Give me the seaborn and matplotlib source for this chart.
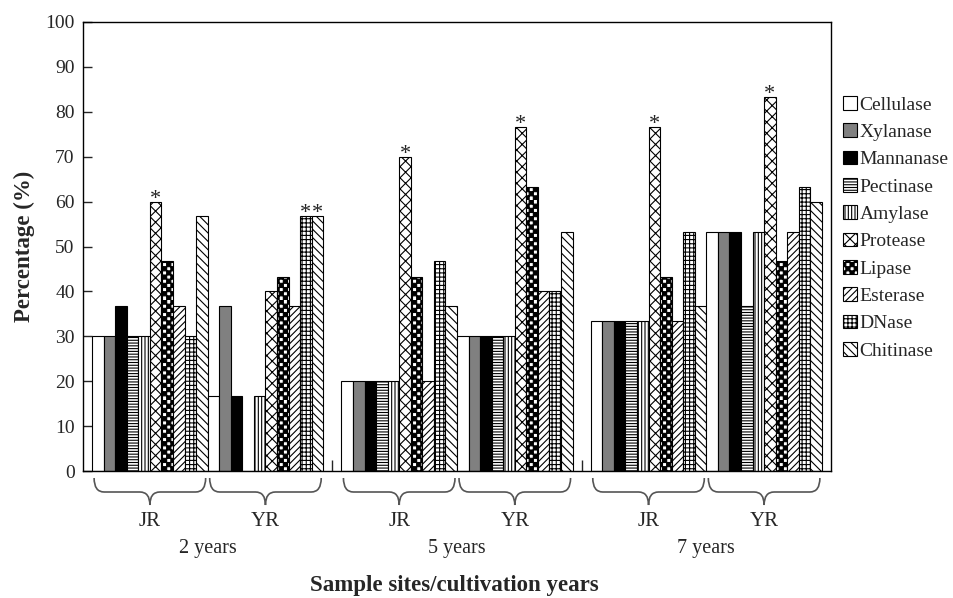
import matplotlib
matplotlib.use('Agg')
import matplotlib.pyplot as plt
import matplotlib.hatch as mhatch
from matplotlib.patches import Patch, PathPatch
from matplotlib.path import Path
from matplotlib.transforms import IdentityTransform
import numpy as np
import pandas as pd
import seaborn as sns

years = ['2 years', '5 years', '7 years']
sites = ['JR', 'YR']
enzymes = ['Cellulase', 'Xylanase', 'Mannanase', 'Pectinase', 'Amylase',
           'Protease', 'Lipase', 'Esterase', 'DNase', 'Chitinase']

# percentage of isolates, enzyme order as above
y2_jr = [30, 30, 36.7, 30, 30, 60, 46.7, 36.7, 30, 56.7]
y2_yr = [16.7, 36.7, 16.7, 0, 16.7, 40, 43.3, 36.7, 56.7, 56.7]
y5_jr = [20, 20, 20, 20, 20, 70, 43.3, 20, 46.7, 36.7]
y5_yr = [30, 30, 30, 30, 30, 76.7, 63.3, 40, 40, 53.3]
y7_jr = [33.3, 33.3, 33.3, 33.3, 33.3, 76.7, 43.3, 33.3, 53.3, 36.7]
y7_yr = [53.3, 53.3, 53.3, 36.7, 53.3, 83.3, 46.7, 53.3, 63.3, 60]

# bars marked with *
starred = [('2 years', 'JR', 'Protease'), ('2 years', 'YR', 'DNase'),
           ('2 years', 'YR', 'Chitinase'), ('5 years', 'JR', 'Protease'),
           ('5 years', 'YR', 'Protease'), ('7 years', 'JR', 'Protease'),
           ('7 years', 'YR', 'Protease')]

faces = ['white', '#808080', 'black', 'white', 'white',
         'white', 'white', 'white', 'white', 'white']
hatches = [None, None, None, '------', '|||||', 'xxx', '****', '/////', '++++', '\\\\\\\\']


# checkerboard hatch (takes the place of the '*' stars)
class CheckerHatch(mhatch.HatchPatternBase):
    def __init__(self, hatch, density):
        self.num_cells = int(hatch.count('*') * density)
        self.num_vertices = (self.num_cells ** 2 // 2) * 5

    def set_vertices_and_codes(self, vertices, codes):
        n = self.num_cells
        s = 1.0 / n
        k = 0
        for i in range(n):
            for j in range(n):
                if (i + j) % 2:
                    continue
                x0, y0 = i * s, j * s
                vertices[k:k + 5] = [(x0, y0), (x0 + s, y0), (x0 + s, y0 + s), (x0, y0 + s), (x0, y0)]
                codes[k:k + 5] = [Path.MOVETO, Path.LINETO, Path.LINETO, Path.LINETO, Path.CLOSEPOLY]
                k += 5


mhatch._hatch_types = [t for t in mhatch._hatch_types if t is not mhatch.Stars] + [CheckerHatch]

sns.set_style('ticks')
plt.rcParams['font.family'] = ['Liberation Serif', 'DejaVu Serif']
plt.rcParams['hatch.linewidth'] = 0.8

rows = []
for year, pair in zip(years, [(y2_jr, y2_yr), (y5_jr, y5_yr), (y7_jr, y7_yr)]):
    for site, vals in zip(sites, pair):
        for enz, v in zip(enzymes, vals):
            rows.append({'year': year, 'series': site + ' ' + enz, 'pct': v})
df = pd.DataFrame(rows)
series_order = [s + ' ' + e for s in sites for e in enzymes]
palette = {s + ' ' + e: c for s in sites for e, c in zip(enzymes, faces)}

fig = plt.figure(figsize=(9.54, 5.98), dpi=100)
ax = fig.add_axes([83 / 954, 127 / 598, 748 / 954, 449 / 598])
sns.barplot(data=df, x='year', y='pct', hue='series', order=years, hue_order=series_order,
            palette=palette, width=0.927, gap=0, dodge=True, errorbar=None, legend=False,
            edgecolor='black', linewidth=0.8, saturation=1, ax=ax)

for k, cont in enumerate(ax.containers):
    for bar in cont:
        bar.set_hatch(hatches[k % 10])

for year, site, enz in starred:
    bar = ax.containers[series_order.index(site + ' ' + enz)][years.index(year)]
    ax.annotate('*', (bar.get_x() + bar.get_width() / 2, bar.get_height()),
                xytext=(0, -5), textcoords='offset points', ha='center', va='bottom',
                fontsize=16, color='#222222')

ax.set_xlim(-0.5, 2.5)
ax.set_ylim(0, 100)
ax.set_xticks([])
ax.set_xticks([0.5, 1.5], minor=True)
ax.set_yticks(range(0, 101, 10))
ax.tick_params(axis='x', which='minor', direction='in', length=8, width=1, labelbottom=False)
ax.tick_params(axis='y', direction='in', length=6.5, width=1, labelsize=14, pad=6)
for sp in ax.spines.values():
    sp.set_linewidth(1)
    sp.set_color('black')

ax.set_xlabel('Sample sites/cultivation years', fontsize=16.5, fontweight='bold')
ax.xaxis.set_label_coords(0.497, -0.232)
ax.set_ylabel('Percentage (%)', fontsize=16.5, fontweight='bold')
ax.yaxis.set_label_coords(-0.064, 0.5)

handles = [Patch(facecolor=c, edgecolor='black', hatch=h, linewidth=0.8, label=e)
           for e, c, h in zip(enzymes, faces, hatches)]
ax.legend(handles=handles, loc='upper left', bbox_to_anchor=(843 / 954, 1 - 96 / 598),
          bbox_transform=fig.transFigure, frameon=False, fontsize=14, borderpad=0,
          borderaxespad=0, handlelength=0.7, handleheight=0.7, handletextpad=0.15,
          labelspacing=0.5)


def brace(x0, x1):
    # curly brace under the axis, drawn in pixels
    X0 = ax.transData.transform((x0, 0))[0] + 2
    X1 = ax.transData.transform((x1, 0))[0] - 2
    xc = (X0 + X1) / 2
    yb = ax.transAxes.transform((0, 0))[1]
    yt, ym, yp, r = yb - 7, yb - 21, yb - 34, 10
    verts = [(X0, yt), (X0, ym), (X0 + r, ym), (xc - r, ym), (xc, ym), (xc, yp),
             (xc, ym), (xc + r, ym), (X1 - r, ym), (X1, ym), (X1, yt)]
    codes = [Path.MOVETO, Path.CURVE3, Path.CURVE3, Path.LINETO, Path.CURVE3, Path.CURVE3,
             Path.CURVE3, Path.CURVE3, Path.LINETO, Path.CURVE3, Path.CURVE3]
    fig.add_artist(PathPatch(Path(verts, codes), transform=IdentityTransform(),
                             fill=False, edgecolor='#555555', linewidth=1.2))


for i, year in enumerate(years):
    for s, site in enumerate(sites):
        b0 = ax.containers[s * 10][i]
        b1 = ax.containers[s * 10 + 9][i]
        x0, x1 = b0.get_x(), b1.get_x() + b1.get_width()
        brace(x0, x1)
        ax.annotate(site, ((x0 + x1) / 2, 0), xycoords=('data', 'axes fraction'),
                    xytext=(0, -50), textcoords='offset pixels', ha='center', va='center',
                    fontsize=15)
    ax.annotate(year, (i, 0), xycoords=('data', 'axes fraction'),
                xytext=(0, -78), textcoords='offset pixels', ha='center', va='center',
                fontsize=14.5)

fig.savefig('out.png', dpi=100)
